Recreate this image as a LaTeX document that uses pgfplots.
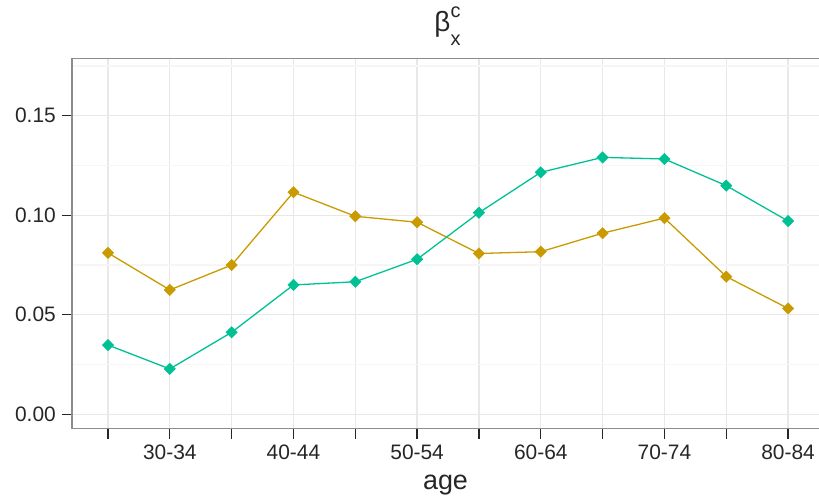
\documentclass[border=0pt]{standalone}
\usepackage{fontspec}
\setmainfont{Liberation Sans}
\usepackage{pgfplots}
\pgfplotsset{compat=1.18}

\definecolor{goldline}{RGB}{201,155,0}
\definecolor{tealline}{RGB}{0,193,148}
\definecolor{gridmajor}{RGB}{232,232,232}
\definecolor{gridminor}{RGB}{246,246,246}
\definecolor{framegray}{RGB}{140,140,140}

\begin{document}
\begin{tikzpicture}
\path[use as bounding box] (-72bp,-69.5bp) rectangle (747bp,428.5bp);
\begin{axis}[
  at={(0,0)}, anchor=south west,
  scale only axis,
  width=747bp, height=370bp,
  xmin=-0.582, xmax=11.50,
  ymin=-0.00714, ymax=0.17879,
  axis line style={draw=none},
  xtick={0,1,...,11},
  xticklabels={,30-34,,40-44,,50-54,,60-64,,70-74,,80-84},
  ytick={0,0.05,0.10,0.15},
  minor ytick={0.025,0.075,0.125,0.175},
  xtick pos=lower, ytick pos=left,
  tick align=outside,
  major tick length=10bp,
  minor tick length=0pt,
  major tick style={black!85, line width=1.3bp},
  xmajorgrids, ymajorgrids, yminorgrids,
  major grid style={gridmajor, line width=1.3bp},
  minor grid style={gridminor, line width=1.3bp},
  /pgf/number format/assume math mode=true,
  yticklabel style={/pgf/number format/fixed, /pgf/number format/precision=2,
    /pgf/number format/fixed zerofill},
  ticklabel style={font=\fontsize{21}{25}\selectfont, text=black!85},
  yticklabel style={inner sep=0pt, xshift=-6bp},
  xticklabel style={inner sep=0pt, yshift=-6bp},
  xlabel={age},
  xlabel style={at={(axis description cs:0.5,0)}, anchor=base,
    yshift=-61bp, font=\fontsize{27}{30}\selectfont, text=black!85},
  title={β\rlap{\raisebox{14bp}{\fontsize{20}{20}\selectfont c}}\raisebox{-14bp}{\fontsize{20}{20}\selectfont x}},
  title style={at={(axis description cs:0.5,1)}, anchor=base,
    yshift=21.5bp, xshift=2bp, font=\fontsize{28}{30}\selectfont, text=black!85},
  every axis plot/.append style={line width=1.3bp},
  after end axis/.code={
    \draw[framegray, line width=1.6bp]
      (axis description cs:1,1) -- (axis description cs:0,1)
      -- (axis description cs:0,0) -- (axis description cs:1,0);
  },
]
% first series (gold)
\addplot[goldline, mark=square*, mark size=4bp,
  mark options={rotate=45, line width=0.5bp}] coordinates {
  (0,0.0811) (1,0.0625) (2,0.0750) (3,0.1116) (4,0.0995) (5,0.0965)
  (6,0.0808) (7,0.0817) (8,0.0910) (9,0.0986) (10,0.0692) (11,0.0532)
};
% second series (teal)
\addplot[tealline, mark=square*, mark size=4bp,
  mark options={rotate=45, line width=0.5bp}] coordinates {
  (0,0.0348) (1,0.0228) (2,0.0412) (3,0.0650) (4,0.0666) (5,0.0779)
  (6,0.1013) (7,0.1216) (8,0.1291) (9,0.1283) (10,0.1149) (11,0.0971)
};
\end{axis}
\end{tikzpicture}
\end{document}
